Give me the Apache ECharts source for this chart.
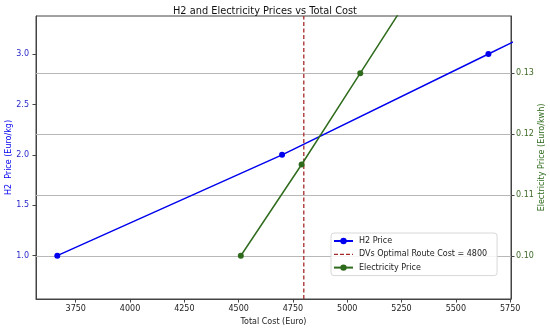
<!DOCTYPE html>
<html>
<head>
<meta charset="utf-8">
<script src="https://cdn.jsdelivr.net/npm/echarts@6/dist/echarts.min.js"></script>
<style>html,body{margin:0;padding:0;background:#fff}#c{width:550px;height:329px}</style>
</head>
<body>
<div id="c"></div>
<script>
// ---- data ----
var h2Cost = [3665, 4700, 5650, 6600];          // last point lies beyond the visible range (clipped)
var h2Price = [1.0, 2.0, 3.0, 4.0];
var elecCost = [4510, 4790, 5060, 5330];        // last point lies beyond the visible range (clipped)
var elecPrice = [0.10, 0.115, 0.13, 0.145];
var optimalCost = 4800;
var xTicks = [3750, 4000, 4250, 4500, 4750, 5000, 5250, 5500, 5750];
var h2Ticks = [1.0, 1.5, 2.0, 2.5, 3.0];
var elecTicks = [0.10, 0.11, 0.12, 0.13];
var xRange = [3567, 5754];
var h2Range = [0.5704, 3.377];
var elecRange = [0.0929, 0.1394];

var FONT = 'DejaVu Sans';
var BLUE = '#0000ee';
var GREEN = '#2f6b1c';
var BROWN = '#a52a2a';
var AXIS = '#444';

function pairs(xs, ys) { return xs.map(function (x, i) { return [x, ys[i]]; }); }

var chart = echarts.init(document.getElementById('c'), null, {renderer: 'canvas'});
chart.setOption({
  animation: false,
  backgroundColor: '#fff',
  textStyle: {fontFamily: FONT},
  title: {
    text: 'H2 and Electricity Prices vs Total Cost',
    left: 168, top: 1,
    textStyle: {fontFamily: FONT, fontSize: 9.8, fontWeight: 'normal', color: '#111'}
  },
  grid: {left: 36, right: 39, top: 16, bottom: 30, containLabel: false, outerBoundsMode: 'none',
    show: true, borderColor: AXIS, borderWidth: 1, backgroundColor: 'transparent'},
  legend: {
    orient: 'vertical', left: 331, top: 233,
    padding: [4, 10, 4, 2], itemGap: 5.3, itemWidth: 19, itemHeight: 8,
    backgroundColor: 'rgba(255,255,255,0.85)', borderColor: '#d8d8d8', borderWidth: 1, borderRadius: 3,
    textStyle: {fontFamily: FONT, fontSize: 8, color: '#222', padding: [0, 0, 0, 1]},
    data: [
      'H2 Price',
      {name: 'DVs Optimal Route Cost = 4800', itemStyle: {opacity: 0},
        lineStyle: {type: [4, 2], width: 1.3, color: BROWN}},
      'Electricity Price'
    ]
  },
  xAxis: {
    type: 'value', min: xRange[0], max: xRange[1],
    name: 'Total Cost (Euro)', nameLocation: 'middle', nameGap: 18,
    nameTextStyle: {fontFamily: FONT, fontSize: 8, color: '#222'},
    axisLine: {show: true, lineStyle: {color: AXIS}},
    axisTick: {show: true, length: 3.5, lineStyle: {color: AXIS}, customValues: xTicks},
    axisLabel: {fontFamily: FONT, fontSize: 8, color: '#222', margin: 6, customValues: xTicks,
      formatter: function (v) { return String(v); }},
    splitLine: {show: false}
  },
  yAxis: [{
    type: 'value', position: 'left', min: h2Range[0], max: h2Range[1],
    name: 'H2  Price (Euro/kg)', nameLocation: 'middle', nameGap: 23.5, nameRotate: 90, nameMoveOverlap: false,
    nameTextStyle: {fontFamily: FONT, fontSize: 8, color: BLUE},
    axisLine: {show: true, lineStyle: {color: AXIS}},
    axisTick: {show: true, length: 3.5, lineStyle: {color: AXIS}, customValues: h2Ticks},
    axisLabel: {fontFamily: FONT, fontSize: 8, color: '#2828c8', margin: 7, customValues: h2Ticks,
      formatter: function (v) { return v.toFixed(1); }},
    splitLine: {show: false}
  }, {
    type: 'value', position: 'right', min: elecRange[0], max: elecRange[1],
    name: 'Electricity Price (Euro/kwh)', nameLocation: 'middle', nameGap: 26.5, nameRotate: 90, nameMoveOverlap: false,
    nameTextStyle: {fontFamily: FONT, fontSize: 8, color: GREEN},
    axisLine: {show: true, lineStyle: {color: AXIS}},
    axisTick: {show: true, length: 3.5, lineStyle: {color: AXIS}, customValues: elecTicks},
    axisLabel: {fontFamily: FONT, fontSize: 8, color: '#3d6a25', margin: 5, customValues: elecTicks,
      formatter: function (v) { return v.toFixed(2); }},
    splitLine: {show: false}
  }],
  series: [{
    name: 'H2 Price', type: 'line', yAxisIndex: 0, clip: true,
    data: pairs(h2Cost, h2Price),
    symbol: 'circle', symbolSize: 6,
    lineStyle: {color: BLUE, width: 1.5}, itemStyle: {color: BLUE},
    z: 3
  }, {
    name: 'DVs Optimal Route Cost = 4800', type: 'line', yAxisIndex: 0, clip: true,
    data: [[optimalCost, h2Range[0]], [optimalCost, h2Range[1]]],
    symbol: 'none',
    lineStyle: {color: BROWN, width: 1.3, type: [4, 2.5]}, itemStyle: {color: BROWN},
    z: 2
  }, {
    name: 'Electricity Price', type: 'line', yAxisIndex: 1, clip: true,
    data: pairs(elecCost, elecPrice),
    symbol: 'circle', symbolSize: 6,
    lineStyle: {color: GREEN, width: 1.5}, itemStyle: {color: GREEN},
    z: 4,
    markLine: {
      silent: true, symbol: 'none', label: {show: false}, animation: false,
      lineStyle: {color: '#b8b8b8', width: 1, type: 'solid'},
      data: elecTicks.map(function (v) { return {yAxis: v}; }),
      z: 1
    }
  }]
});
</script>
</body>
</html>
